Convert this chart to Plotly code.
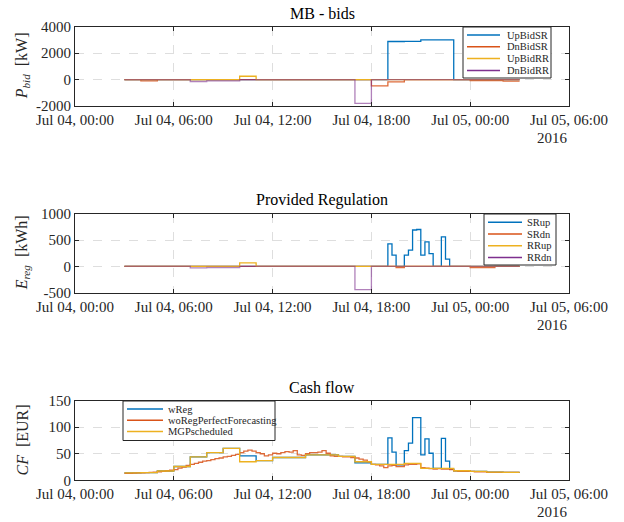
import pandas as pd
import plotly.graph_objects as go

# ---------------- data ----------------
START = "2016-07-04 03:00"
TICK_TIMES = ["2016-07-04 00:00", "2016-07-04 06:00", "2016-07-04 12:00",
              "2016-07-04 18:00", "2016-07-05 00:00", "2016-07-05 06:00"]
TICK_LABELS = ["Jul 04, 00:00", "Jul 04, 06:00", "Jul 04, 12:00",
               "Jul 04, 18:00", "Jul 05, 00:00", "Jul 05, 06:00"]

# hourly bids 03:00 .. 02:00 (+1 day)  [kW]
UP_BID_SR = [0, 0, 0, 0, 0, 0, 0, 0, 0, 0, 0, 0, 0, 0, 0, 0, 2880, 2890, 3010, 3000, 0, 0, 0, 0]
DN_BID_SR = [0, -100, 0, 0, 0, 0, 0, 0, 0, 0, 0, 0, 0, 0, 0, -470, -180, 0, 0, 0, 0, -80, -80, -120]
UP_BID_RR = [0, 0, 0, 0, 0, 0, 0, 250, 0, 0, 0, 0, 0, 0, 0, 0, 0, 0, 0, 0, 0, 0, 0, 0]
DN_BID_RR = [0, 0, 0, 0, -150, -100, -100, 0, 0, 0, 0, 0, 0, 0, -1800, 0, 0, 0, 0, 0, 0, 0, 0, 0]

# 15-minute provided regulation [kWh]  (rows = hours 03 .. 02)
SR_UP = [
    0, 0, 0, 0,   0, 0, 0, 0,   0, 0, 0, 0,   0, 0, 0, 0,      # 03-06
    0, 0, 0, 0,   0, 0, 0, 0,   0, 0, 0, 0,   0, 0, 0, 0,      # 07-10
    0, 0, 0, 0,   0, 0, 0, 0,   0, 0, 0, 0,   0, 0, 0, 0,      # 11-14
    0, 0, 0, 0,   0, 0, 0, 0,   0, 0, 0, 0,   0, 0, 0, 0,      # 15-18
    430, 215, 0, 0,   215, 310, 695, 705,   215, 470, 245, 0,   0, 565, 140, 0,  # 19-22
    0, 0, 0, 0,   0, 0, 0, 0,   0, 0, 0, 0,   0, 0, 0, 0,      # 23-02
]
SR_DN = [
    0, 0, 0, 0,   0, 0, 0, 0,   0, 0, 0, 0,   0, 0, 0, 0,
    0, 0, 0, 0,   0, 0, 0, 0,   0, 0, 0, 0,   0, 0, 0, 0,
    0, 0, 0, 0,   0, 0, 0, 0,   0, 0, 0, 0,   0, 0, 0, 0,
    0, 0, 0, 0,   0, 0, 0, 0,   0, 0, 0, 0,   0, 0, 0, 0,
    0, 0, -20, -20,   0, 0, 0, 0,   0, 0, 0, 0,   0, 0, 0, 0,
    0, 0, 0, 0,   -20, -20, -20, -20,   -20, -20, 0, 0,   0, 0, 0, 0,
]
RR_UP = [0, 0, 0, 0, 0, 0, 0, 70, 0, 0, 0, 0, 0, 0, 0, 0, 0, 0, 0, 0, 0, 0, 0, 0]
RR_DN = [0, 0, 0, 0, -25, -20, -20, 0, 0, 0, 0, 0, 0, 0, -440, 0, 0, 0, 0, 0, 0, 0, 0, 0]

# cash flow [EUR]
CF_WREG = [
    14, 14, 14, 14,   14.5, 14.5, 14.5, 14.5,   17.5, 17.5, 17.5, 17.5,   26, 26, 26, 26,
    44, 44, 44, 44,   52, 52, 52, 52,   60, 60, 60, 60,   46, 46, 46, 46,
    37, 37, 37, 37,   43, 43, 43, 43,   43, 43, 43, 43,   48, 48, 48, 48,
    48, 48, 48, 48,   45, 45, 45, 45,   33, 33, 33, 33,   30, 30, 30, 30,
    80, 53, 29, 29,   56, 70, 118, 118,   48, 78, 51, 22.5,   22.5, 79, 36, 21,
    18, 18, 18, 18,   17, 17, 17, 17,   15.5, 15.5, 15.5, 15.5,   15, 15, 15, 15,
]
CF_WOREG = [
    13, 13, 13.5, 14,   14, 14.5, 15, 15.5,   16, 17, 18, 19,   20, 23, 25, 28,
    30, 32, 34, 36,   37, 39, 41, 42,   44, 45, 47, 49,   52, 55, 57, 55,
    52, 50, 46, 48,   51, 50, 52, 54,   53, 56, 48, 47,   50, 52, 52, 53,
    56, 51, 46, 45,   45, 44, 44, 43,   42, 40, 38, 35,   30, 29, 27, 24,
    27, 28, 26, 26,   29, 30, 30, 31,   24, 23, 22, 21,   22, 21, 21, 20,
    18, 17, 17, 17,   17, 16, 16, 16,   15, 15, 15, 15,   15, 15, 15, 15,
]
CF_MGP = [14, 14.5, 17.5, 26, 44, 52, 60, 35, 37, 43, 43, 48, 48, 45, 35, 30, 30, 32,
          22.5, 22.5, 18, 17, 15.5, 15]

# ---------------- styling ----------------
W, H = 624, 522
BLUE, ORANGE, YELLOW, PURPLE = "#0072BD", "#D95319", "#EDB120", "#7E2F8E"
AX = "#262626"
FONT = "Liberation Serif"

def X(px):
    return px / W

def Y(py):
    return 1 - py / H

def stairs(values, freq):
    x = pd.date_range(START, periods=len(values) + 1, freq=freq)
    return x, list(values) + [values[-1]]

fig = go.Figure()

panels = [  # (left, right, top, bottom) in px
    (75, 569, 26.7, 106.0),
    (75, 569, 214.0, 292.7),
    (75, 569, 400.7, 480.3),
]

series = [
    (1, UP_BID_SR, "h", BLUE, "UpBidSR"),
    (1, DN_BID_SR, "h", ORANGE, "DnBidSR"),
    (1, UP_BID_RR, "h", YELLOW, "UpBidRR"),
    (1, DN_BID_RR, "h", PURPLE, "DnBidRR"),
    (2, SR_UP, "15min", BLUE, "SRup"),
    (2, SR_DN, "15min", ORANGE, "SRdn"),
    (2, RR_UP, "h", YELLOW, "RRup"),
    (2, RR_DN, "h", PURPLE, "RRdn"),
    (3, CF_WREG, "15min", BLUE, "wReg"),
    (3, CF_WOREG, "15min", ORANGE, "woRegPerfectForecasting"),
    (3, CF_MGP, "h", YELLOW, "MGPscheduled"),
]
for ax, vals, freq, col, name in series:
    xs, ys = stairs(vals, freq)
    sfx = "" if ax == 1 else str(ax)
    fig.add_trace(go.Scatter(
        x=xs, y=ys, mode="lines", line=dict(color=col, width=1.3, shape="hv"),
        name=name, showlegend=False, xaxis="x" + sfx, yaxis="y" + sfx,
        opacity=0.6 if col == PURPLE else (0.85 if col == ORANGE else 1.0)))

yspecs = [
    dict(range=[-2000, 4000], tickvals=[-2000, 0, 2000, 4000], ticktext=["-2000", "0", "2000", "4000"]),
    dict(range=[-500, 1000], tickvals=[-500, 0, 500, 1000], ticktext=["-500", "0", "500", "1000"]),
    dict(range=[0, 150], tickvals=[0, 50, 100, 150], ticktext=["0", "50", "100", "150"]),
]
titles = ["MB - bids", "Provided Regulation", "Cash flow"]
ytitles = ["<i>P</i><sub><i>bid</i></sub>  [kW]", "<i>E</i><sub><i>reg</i></sub>  [kWh]",
           "<i>CF</i>  [EUR]"]

common = dict(showline=True, linecolor=AX, linewidth=1, mirror="ticks", ticks="inside",
              ticklen=4, tickcolor=AX, showgrid=True, gridcolor="#dedede", griddash="dash",
              gridwidth=1, zeroline=False, automargin=False,
              tickfont=dict(family=FONT, size=15, color=AX))

layout = dict(template="none", width=W, height=H,
              margin=dict(l=0, r=0, t=0, b=0, pad=0, autoexpand=False),
              plot_bgcolor="white", paper_bgcolor="white", showlegend=False)
annotations = []
shapes = []
for i, (l, r, t, b) in enumerate(panels):
    sfx = "" if i == 0 else str(i + 1)
    layout["xaxis" + sfx] = dict(domain=[X(l), X(r)], anchor="y" + sfx, type="date",
                                 range=[TICK_TIMES[0], TICK_TIMES[-1]],
                                 tickvals=TICK_TIMES, ticktext=TICK_LABELS, **common)
    layout["yaxis" + sfx] = dict(domain=[Y(b), Y(t)], anchor="x" + sfx, **yspecs[i], **common)
    annotations.append(dict(text=titles[i], x=X((l + r) / 2), y=Y(t - 3), xref="paper", yref="paper",
                            xanchor="center", yanchor="bottom", showarrow=False,
                            font=dict(family=FONT, size=16, color="black")))
    annotations.append(dict(text=ytitles[i], x=X(22), y=Y((t + b) / 2), xref="paper", yref="paper",
                            xanchor="center", yanchor="middle", textangle=-90, showarrow=False,
                            font=dict(family=FONT, size=16, color=AX)))
    annotations.append(dict(text="2016", x=X(r + 1), y=Y(b + 22), xref="paper", yref="paper",
                            xanchor="right", yanchor="top", showarrow=False,
                            font=dict(family=FONT, size=15, color=AX)))

def legend(box, items, line_x, text_x, ys, size=10.5):
    l, t, r, b = box
    shapes.append(dict(type="rect", xref="paper", yref="paper", x0=X(l), x1=X(r), y0=Y(b), y1=Y(t),
                       line=dict(color=AX, width=1), fillcolor="white", layer="above"))
    for (name, col), yy in zip(items, ys):
        shapes.append(dict(type="line", xref="paper", yref="paper", x0=X(line_x[0]), x1=X(line_x[1]),
                           y0=Y(yy), y1=Y(yy), line=dict(color=col, width=1.5), layer="above"))
        annotations.append(dict(text=name, x=X(text_x), y=Y(yy), xref="paper", yref="paper",
                                xanchor="left", yanchor="middle", showarrow=False,
                                font=dict(family=FONT, size=size, color=AX)))

legend((463, 27, 551, 78), [("UpBidSR", BLUE), ("DnBidSR", ORANGE), ("UpBidRR", YELLOW), ("DnBidRR", PURPLE)],
       (467, 500), 505, [35, 46.8, 58.6, 70.4])
legend((484, 214, 556, 265), [("SRup", BLUE), ("SRdn", ORANGE), ("RRup", YELLOW), ("RRdn", PURPLE)],
       (488, 522), 525, [222.3, 234, 245.8, 257.6])
legend((123, 401, 275, 440.5), [("wReg", BLUE), ("woRegPerfectForecasting", ORANGE), ("MGPscheduled", YELLOW)],
       (127, 163), 166, [409, 420.3, 431.6])

layout["annotations"] = annotations
layout["shapes"] = shapes
fig.update_layout(**layout)
fig.write_html("out.html")
